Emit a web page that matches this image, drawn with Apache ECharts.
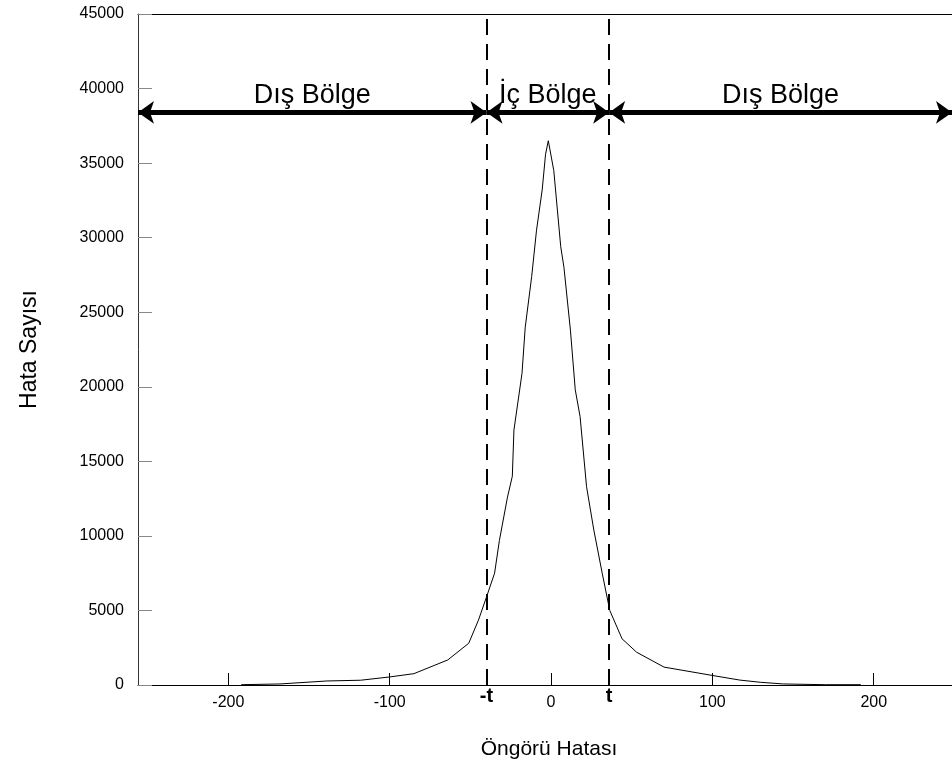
<!DOCTYPE html>
<html><head><meta charset="utf-8">
<script src="https://cdn.jsdelivr.net/npm/echarts@6/dist/echarts.min.js"></script>
<style>html,body{margin:0;padding:0;background:#fff}#c{width:952px;height:772px}</style>
</head><body><div id="c"></div>
<script>
// Forecast error (x) and error counts (y)
const errX = [-192, -168, -139, -118, -100, -85, -64, -51, -45, -40, -35, -32, -27, -24, -23, -18, -16, -12, -9, -5.5, -3.4, -1.7, 1.7, 6, 8, 12, 15, 18, 22, 26.5, 31.7, 36.4, 44, 53, 70, 100, 117, 130, 144, 170, 192];
const errCount = [20, 70, 270, 320, 540, 760, 1680, 2800, 4350, 5900, 7500, 9700, 12600, 14000, 17100, 20900, 24000, 27400, 30500, 33200, 35600, 36500, 34500, 29400, 28000, 23800, 19800, 18000, 13300, 10400, 7500, 5000, 3100, 2200, 1200, 640, 330, 180, 70, 20, 20];
const xTickValues = [-200, -100, 0, 100, 200];
const xMin = -256, xMax = 248.5;
const yMin = 0, yMax = 45000, yStep = 5000;
const tLow = -40, tHigh = 36;
const tLabels = ['-t', 't'];
const arrowLevel = 38400;
const regionBounds = [-256, -40, 36, 248.5];
const regionNames = ['Dış Bölge', 'İç Bölge', 'Dış Bölge'];
const xTitle = 'Öngörü Hatası';
const yTitle = 'Hata Sayısı';

const FONT = '"Liberation Sans", Arial, sans-serif';
const chart = echarts.init(document.getElementById('c'), null, {renderer: 'canvas'});
const lineData = errX.map((x, i) => [x, errCount[i]]);
const arrowData = regionNames.map((n, i) => [
  {name: n, coord: [regionBounds[i], arrowLevel]},
  {coord: [regionBounds[i + 1], arrowLevel]}
]);
chart.setOption({
  animation: false,
  backgroundColor: '#fff',
  textStyle: {fontFamily: FONT},
  grid: {left: 138, top: 14, right: 0, bottom: 87, show: false},
  xAxis: [{
    type: 'value', min: xMin, max: xMax,
    axisLine: {show: true, onZero: false, lineStyle: {color: '#000', width: 1}},
    axisTick: {show: true, inside: true, length: 12, customValues: xTickValues, lineStyle: {color: '#000'}},
    axisLabel: {customValues: xTickValues, fontSize: 16, color: '#000', margin: 10, fontFamily: FONT},
    splitLine: {show: false},
    name: xTitle, nameLocation: 'middle', nameGap: 54,
    nameTextStyle: {fontSize: 21, color: '#000', fontFamily: FONT, padding: [0, 0, 0, 8]}
  }, {
    type: 'value', min: xMin, max: xMax, position: 'top',
    axisLine: {show: true, onZero: false, lineStyle: {color: '#000', width: 1}},
    axisTick: {show: false}, axisLabel: {show: false}, splitLine: {show: false}
  }],
  yAxis: {
    type: 'value', min: yMin, max: yMax, interval: yStep,
    axisLine: {show: true, onZero: false, lineStyle: {color: '#333', width: 1}},
    axisTick: {show: true, inside: true, length: 14, lineStyle: {color: '#888'}},
    axisLabel: {fontSize: 16, color: '#000', margin: 14, fontFamily: FONT, formatter: v => String(v)},
    splitLine: {show: false},
    name: yTitle, nameLocation: 'middle', nameGap: 97, nameRotate: 90,
    nameTextStyle: {fontSize: 23, color: '#000', fontFamily: FONT}
  },
  series: [
    {
      type: 'line', data: lineData, showSymbol: false, symbol: 'none',
      lineStyle: {color: '#000', width: 1}, z: 3
    },
    {
      type: 'line', data: [], silent: true,
      markLine: {
        silent: true, symbol: ['arrow', 'arrow'], symbolSize: [17, 16],
        lineStyle: {color: '#000', width: 5, type: 'solid'},
        label: {show: true, position: 'middle', formatter: '{b}', fontSize: 27, color: '#000', distance: 3, fontFamily: FONT},
        emphasis: {disabled: true},
        data: arrowData
      }
    },
    {
      type: 'line', data: [], silent: true,
      markLine: {
        silent: true, symbol: 'none',
        lineStyle: {color: '#000', width: 2, type: [16, 9]},
        label: {show: true, position: 'start', formatter: '{b}', fontSize: 20, fontWeight: 'bold', color: '#000', distance: 1, fontFamily: FONT},
        emphasis: {disabled: true},
        data: [{name: tLabels[0], xAxis: tLow}, {name: tLabels[1], xAxis: tHigh}]
      }
    }
  ]
});
</script>
</body></html>
